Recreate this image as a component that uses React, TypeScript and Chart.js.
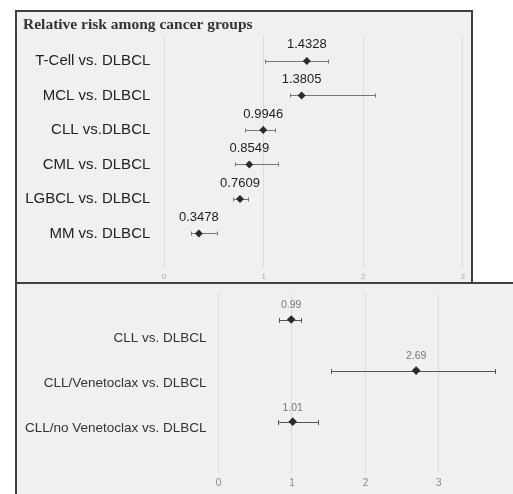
import React, { useEffect, useRef } from 'react';
import { Chart, registerables } from 'chart.js';

Chart.register(...registerables);

// ---------- data ----------
const topTitle = 'Relative risk among cancer groups';
const topLabels = [
  'T-Cell vs. DLBCL',
  'MCL vs. DLBCL',
  'CLL vs.DLBCL',
  'CML vs. DLBCL',
  'LGBCL vs. DLBCL',
  'MM vs. DLBCL',
];
const topRR = [1.4328, 1.3805, 0.9946, 0.8549, 0.7609, 0.3478];
const topLow = [1.01, 1.26, 0.81, 0.71, 0.69, 0.27];
const topHigh = [1.65, 2.12, 1.11, 1.14, 0.84, 0.53];
const topTicks = [0, 1, 2, 3];

const bottomLabels = [
  'CLL vs. DLBCL',
  'CLL/Venetoclax vs. DLBCL',
  'CLL/no Venetoclax vs. DLBCL',
];
const bottomRR = [0.99, 2.69, 1.01];
const bottomLow = [0.82, 1.53, 0.81];
const bottomHigh = [1.12, 3.77, 1.35];
const bottomTicks = [0, 1, 2, 3];

const SANS = "'Liberation Sans', Arial, sans-serif";
const SERIF = "'Liberation Serif', 'Times New Roman', serif";

// ---------- plugin: error bars + value labels ----------
const forestPlugin = {
  id: 'forest',
  beforeDatasetsDraw(chart: any, _args: any, opts: any) {
    const meta = chart.getDatasetMeta(0);
    const xs = chart.scales.x;
    const ctx = chart.ctx;
    ctx.save();
    ctx.strokeStyle = opts.barColor;
    ctx.lineWidth = 1;
    meta.data.forEach((pt: any, i: number) => {
      const y = Math.round(pt.y) + 0.5;
      const x1 = Math.round(xs.getPixelForValue(opts.low[i])) + 0.5;
      const x2 = Math.round(xs.getPixelForValue(opts.high[i])) + 0.5;
      ctx.beginPath();
      ctx.moveTo(x1, y);
      ctx.lineTo(x2, y);
      ctx.moveTo(x1, y - opts.cap);
      ctx.lineTo(x1, y + opts.cap);
      ctx.moveTo(x2, y - opts.cap);
      ctx.lineTo(x2, y + opts.cap);
      ctx.stroke();
    });
    ctx.restore();
  },
  afterDatasetsDraw(chart: any, _args: any, opts: any) {
    const meta = chart.getDatasetMeta(0);
    const ctx = chart.ctx;
    ctx.save();
    ctx.font = opts.labelFont;
    ctx.fillStyle = opts.labelColor;
    ctx.textAlign = 'center';
    ctx.textBaseline = 'middle';
    meta.data.forEach((pt: any, i: number) => {
      ctx.fillText(String(opts.values[i]), pt.x, pt.y - opts.labelOffset);
    });
    ctx.restore();
  },
};

const noPad = (s: any) => {
  s.paddingTop = 0;
  s.paddingBottom = 0;
  s.paddingLeft = 0;
  s.paddingRight = 0;
};

function TopChart() {
  const ref = useRef<HTMLCanvasElement>(null);
  useEffect(() => {
    const chart = new Chart(ref.current as HTMLCanvasElement, {
      type: 'scatter',
      data: {
        datasets: [
          {
            data: topRR.map((v, i) => ({ x: v, y: i })),
            pointStyle: 'rectRot',
            pointRadius: 4,
            backgroundColor: '#2b2b2b',
            borderColor: '#2b2b2b',
            borderWidth: 0,
          },
        ],
      },
      options: {
        animation: false,
        responsive: false,
        events: [],
        layout: { padding: { left: 6, right: 8.3, top: 0, bottom: 0 } },
        plugins: {
          legend: { display: false },
          tooltip: { enabled: false },
          title: {
            display: true,
            text: topTitle,
            align: 'start',
            color: '#333',
            font: { family: SERIF, size: 15.5, weight: 'bold' },
            padding: { top: 4, bottom: 0.4 },
          },
          forest: {
            low: topLow,
            high: topHigh,
            values: topRR,
            barColor: '#777',
            cap: 2,
            labelFont: `13px ${SANS}`,
            labelColor: '#222',
            labelOffset: 16,
          },
        } as any,
        scales: {
          x: {
            type: 'linear',
            min: 0,
            max: 3,
            afterBuildTicks: (s: any) => {
              s.ticks = topTicks.map((v) => ({ value: v }));
            },
            afterFit: (s: any) => {
              s.height = 14;
              noPad(s);
            },
            grid: { color: '#dcdcdc', drawTicks: false },
            border: { display: false },
            ticks: { font: { family: SANS, size: 8 }, color: '#aaa', padding: 4 },
          },
          y: {
            type: 'linear',
            reverse: true,
            min: -0.75,
            max: 6,
            afterBuildTicks: (s: any) => {
              s.ticks = topLabels.map((_, i) => ({ value: i }));
            },
            afterFit: (s: any) => {
              s.width = 141.3;
              noPad(s);
            },
            grid: { display: false, drawTicks: false },
            border: { display: false },
            ticks: {
              callback: (v: any) => topLabels[Math.round(v)],
              font: { family: SANS, size: 15 },
              color: '#222',
              padding: 14,
            },
          },
        },
      } as any,
      plugins: [forestPlugin],
    });
    return () => chart.destroy();
  }, []);
  return (
    <canvas
      ref={ref}
      width={454}
      height={270}
      style={{ position: 'absolute', left: 17, top: 12, width: 454, height: 270 }}
    />
  );
}

function BottomChart() {
  const ref = useRef<HTMLCanvasElement>(null);
  useEffect(() => {
    const chart = new Chart(ref.current as HTMLCanvasElement, {
      type: 'scatter',
      data: {
        datasets: [
          {
            data: bottomRR.map((v, i) => ({ x: v, y: i })),
            yAxisID: 'y2',
            pointStyle: 'rectRot',
            pointRadius: 4.3,
            backgroundColor: '#2b2b2b',
            borderColor: '#2b2b2b',
            borderWidth: 0,
          },
        ],
      },
      options: {
        animation: false,
        responsive: false,
        events: [],
        layout: { padding: { left: 0, right: 0, top: 10, bottom: 0 } },
        plugins: {
          legend: { display: false },
          tooltip: { enabled: false },
          forest: {
            low: bottomLow,
            high: bottomHigh,
            values: bottomRR,
            barColor: '#555',
            cap: 2.5,
            labelFont: `10.5px ${SANS}`,
            labelColor: '#777',
            labelOffset: 14,
          },
        } as any,
        scales: {
          x: {
            type: 'linear',
            min: 0,
            max: 3.95,
            afterBuildTicks: (s: any) => {
              s.ticks = bottomTicks.map((v) => ({ value: v }));
            },
            afterFit: (s: any) => {
              s.height = 21.3;
              noPad(s);
            },
            grid: { color: '#dcdcdc', drawTicks: false },
            border: { display: false },
            ticks: { font: { family: SANS, size: 10 }, color: '#888', padding: 5 },
          },
          y: {
            type: 'linear',
            reverse: true,
            min: 0,
            max: 4,
            afterBuildTicks: (s: any) => {
              s.ticks = bottomLabels.map((_, i) => ({ value: i + 1 }));
            },
            afterFit: (s: any) => {
              s.width = 201.5;
              noPad(s);
            },
            grid: { display: false, drawTicks: false },
            border: { display: false },
            ticks: {
              callback: (v: any) => bottomLabels[Math.round(v) - 1],
              font: { family: SANS, size: 13.5 },
              color: '#333',
              padding: 12,
            },
          },
          y2: {
            type: 'linear',
            reverse: true,
            min: -0.5,
            max: 3,
            display: false,
          },
        },
      } as any,
      plugins: [forestPlugin],
    });
    return () => chart.destroy();
  }, []);
  return (
    <canvas
      ref={ref}
      width={496}
      height={210}
      style={{ position: 'absolute', left: 17, top: 284, width: 496, height: 210 }}
    />
  );
}

export default function App() {
  return (
    <div
      style={{
        position: 'fixed',
        left: 0,
        top: 0,
        width: 513,
        height: 494,
        background: '#fff',
        overflow: 'hidden',
      }}
    >
      <div
        style={{
          position: 'absolute',
          left: 15,
          top: 10,
          width: 458,
          height: 274,
          boxSizing: 'border-box',
          border: '2px solid #404040',
          background: '#f0f0f0',
        }}
      />
      <div
        style={{
          position: 'absolute',
          left: 15,
          top: 282,
          width: 498,
          height: 212,
          boxSizing: 'border-box',
          borderLeft: '2px solid #404040',
          borderTop: '2px solid #404040',
          background: '#f0f0f0',
        }}
      />
      <TopChart />
      <BottomChart />
    </div>
  );
}
